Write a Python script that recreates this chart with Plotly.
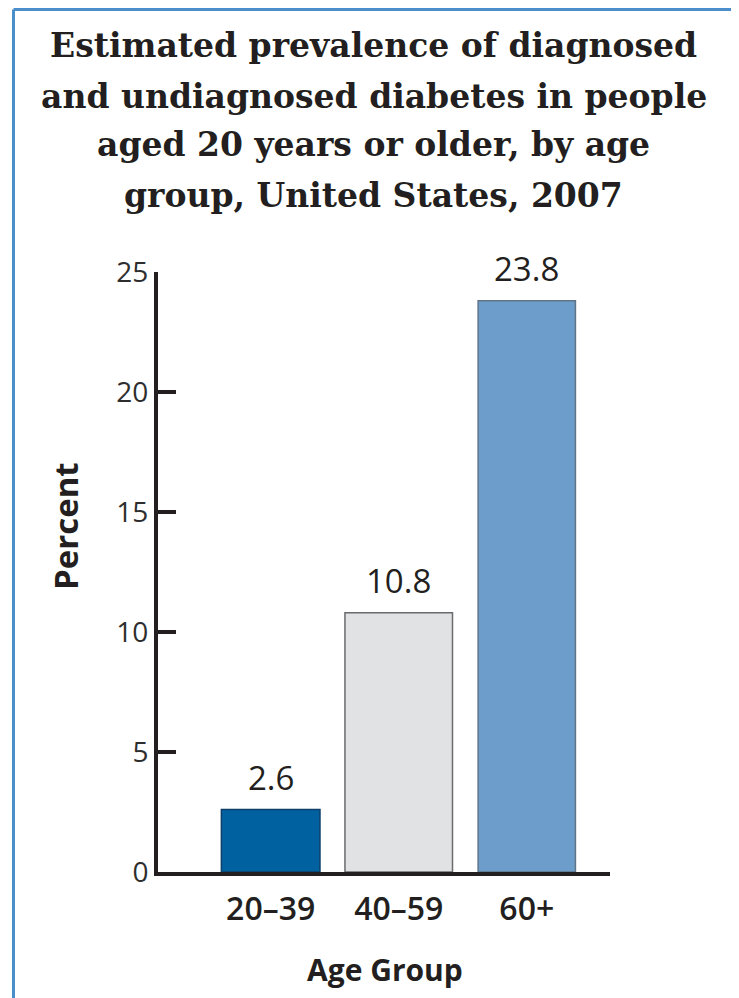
import plotly.graph_objects as go

# Data
age_groups = ["20–39", "40–59", "60+"]
percent = [2.6, 10.8, 23.8]
value_labels = ["2.6", "10.8", "23.8"]
y_ticks = [0, 5, 10, 15, 20, 25]
title_lines = [
    "Estimated prevalence of diagnosed",
    "and undiagnosed diabetes in people",
    "aged 20 years or older, by age",
    "group, United States, 2007",
]

bar_colors = ["#0061a0", "#e1e2e4", "#6d9ecb"]
bar_edges = ["#0d3f68", "#6a6b6d", "#5f7487"]
bar_widths = [0.77, 0.84, 0.76]

TEXT = "#231f20"
SANS = "Open Sans"
SERIF = "DejaVu Serif"

fig = go.Figure()
fig.add_trace(go.Bar(
    x=age_groups, y=percent,
    width=bar_widths,
    marker=dict(color=bar_colors, line=dict(color=bar_edges, width=1.5)),
    hoverinfo="skip",
))

# value labels above bars
for cat, v, lab in zip(age_groups, percent, value_labels):
    fig.add_annotation(x=cat, y=v, text=lab, showarrow=False,
                       xref="x", yref="y", yanchor="bottom", yshift=8,
                       font=dict(family=SANS, size=33, color=TEXT))

# title, one annotation per line
title_y = [1.3767, 1.2933, 1.2117, 1.1283]
for line, ty in zip(title_lines, title_y):
    fig.add_annotation(
        text=line, xref="paper", yref="paper", x=0.4768, y=ty,
        xanchor="center", yanchor="middle", showarrow=False,
        font=dict(family=SERIF, size=33, color=TEXT, weight="bold"))

# axis titles
fig.add_annotation(text="Percent", xref="paper", yref="paper",
                   x=-0.2035, y=0.5767, xanchor="center", yanchor="middle",
                   textangle=-90, showarrow=False,
                   font=dict(family=SANS, size=33, color=TEXT, weight="bold"))
fig.add_annotation(text="Age Group", xref="paper", yref="paper",
                   x=0.502, y=-0.163, xanchor="center", yanchor="middle",
                   showarrow=False,
                   font=dict(family=SANS, size=30, color=TEXT, weight="bold"))

# border lines (top and left, blue)
fig.add_shape(type="line", xref="paper", yref="paper",
              x0=-0.3197, x1=1.3, y0=1.4375, y1=1.4375,
              line=dict(color="#4a8fcb", width=3))
fig.add_shape(type="line", xref="paper", yref="paper",
              x0=-0.3197, x1=-0.3197, y0=1.4375, y1=-0.3,
              line=dict(color="#4a8fcb", width=3))

fig.update_layout(
    width=731, height=990,
    margin=dict(l=150, r=129, t=264, b=126),
    paper_bgcolor="white", plot_bgcolor="white",
    showlegend=False,
    xaxis=dict(
        type="category", range=[-0.88, 2.65],
        showline=True, linecolor=TEXT, linewidth=4,
        ticks="", showgrid=False, zeroline=False,
        tickfont=dict(family=SANS, size=32, color=TEXT, weight=600),
        ticklabelstandoff=6,
    ),
    yaxis=dict(
        range=[0, 25], tickvals=y_ticks,
        showline=True, linecolor=TEXT, linewidth=4,
        ticks="inside", ticklen=18, tickwidth=4, tickcolor=TEXT,
        showgrid=False, zeroline=False,
        tickfont=dict(family=SANS, size=28, color="#2e2e2e"),
        ticklabelstandoff=0,
    ),
)

fig.write_html("out.html")
